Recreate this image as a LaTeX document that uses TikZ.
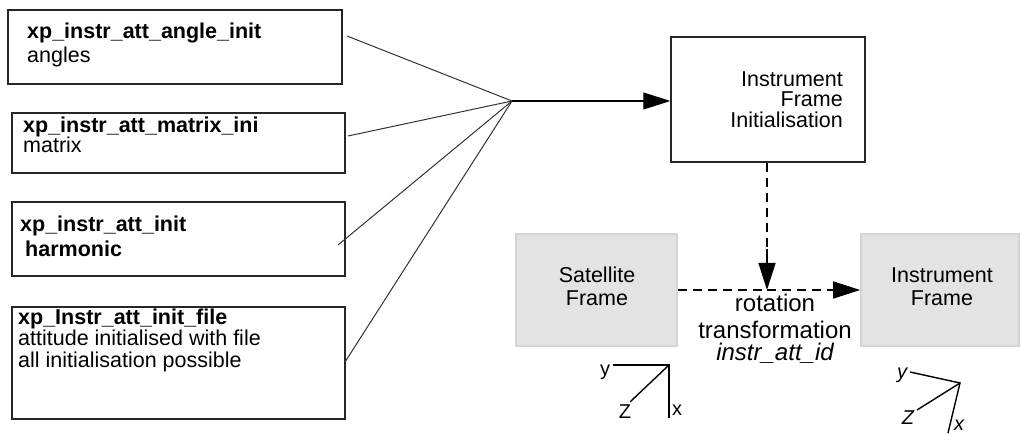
\documentclass[tikz,border=0pt]{standalone}
\usepackage{fontspec}
\setmainfont{Liberation Sans}
\usetikzlibrary{arrows.meta}
\begin{document}
\begin{tikzpicture}[x=1pt,y=-1pt,
  box/.style={draw=black!85,line width=1.4pt,inner sep=0pt},
  gbox/.style={draw=black!17,fill=black!11,line width=1.6pt,inner sep=0pt},
  txt/.style={inner sep=0pt,anchor=base west,font=\fontsize{21.5}{24}\selectfont},
  ctxt/.style={inner sep=0pt,anchor=base,font=\fontsize{21.5}{24}\selectfont},
  rtxt/.style={inner sep=0pt,anchor=base east,font=\fontsize{21.5}{24}\selectfont},
  big/.style={inner sep=0pt,anchor=base,font=\fontsize{24}{27}\selectfont},
  conn/.style={line width=1pt,draw=black!80},
  dsh/.style={line width=1.3pt,dash pattern=on 9pt off 6pt},
  tip/.style={-{Triangle[length=27pt,width=17pt]}},
  axisline/.style={line width=1.4pt},
  axlbl/.style={inner sep=0pt,font=\fontsize{20}{22}\selectfont}]
\useasboundingbox (0,0) rectangle (1021,435);

% left boxes
\node[box,minimum width=334pt,minimum height=74pt] (b1) at (175,47) {};
\node[box,minimum width=333pt,minimum height=60pt] (b2) at (178.5,143) {};
\node[box,minimum width=333pt,minimum height=74pt] (b3) at (178.5,239) {};
\node[box,minimum width=333pt,minimum height=112pt] (b4) at (178.5,363) {};

\node[txt] (t1a) at (27,39) {\textbf{xp\_instr\_att\_angle\_init}};
\node[txt] (t1b) at (27,63) {angles};
\node[txt] (t2a) at (23,133) {\textbf{xp\_instr\_att\_matrix\_ini}};
\node[txt] (t2b) at (23,153) {matrix};
\node[txt] (t3a) at (20,232) {\textbf{xp\_instr\_att\_init}};
\node[txt] (t3b) at (25,257) {\textbf{harmonic}};
\node[txt] (t4a) at (18,325) {\textbf{xp\_Instr\_att\_init\_file}};
\node[txt] (t4b) at (18,346) {attitude initialised with file};
\node[txt] (t4c) at (18,368) {all initialisation possible};

% junction and connectors
\coordinate (J) at (512,101);
\coordinate (s1) at (347,36);
\coordinate (s2) at (348,136);
\coordinate (s3) at (338,245);
\coordinate (s4) at (345,362);
\draw[conn] (s1) -- (J);
\draw[conn] (s2) -- (J);
\draw[conn] (s3) -- (J);
\draw[conn] (s4) -- (J);

% top box
\node[box,minimum width=194pt,minimum height=125pt] (init) at (768,99.5) {};
\node[rtxt] (i1) at (843,87) {Instrument};
\node[rtxt] (i2) at (843,107) {Frame};
\node[rtxt] (i3) at (843,128) {Initialisation};
\draw[line width=1.1pt,tip] (J) -- (init.west |- J);

% frames
\node[gbox,minimum width=161pt,minimum height=112pt] (sat) at (596.5,290) {};
\node[ctxt] (sa1) at (597,283) {Satellite};
\node[ctxt] (sa2) at (597,306) {Frame};
\node[gbox,minimum width=158pt,minimum height=112pt] (ins) at (940,290) {};
\node[ctxt] (in1) at (942,283) {Instrument};
\node[ctxt] (in2) at (942,306) {Frame};

% dashed arrows
\coordinate (M) at (767,290);
\draw[dsh] (sat.east) -- (M);
\draw[dsh,tip] (M) -- (ins.west);
\draw[dsh] (767,162.7) -- (767,250);
\draw[tip,line width=1.3pt] (767,249) -- (M);

% label
\node[big] (l1) at (775,312) {rotation};
\node[big] (l2) at (775,339) {transformation};
\node[big] (l3) at (775,361) {\itshape instr\_att\_id};

% left axis
\coordinate (A1) at (669,365);
\coordinate (A1y) at (613,365);
\coordinate (A1z) at (630,402);
\coordinate (A1x) at (669,418);
\draw[axisline] (A1y) -- (A1) -- (A1x);
\draw[axisline] (A1) -- (A1z);
\node[axlbl] (ly1) at (605,372) {y};
\node[axlbl] (lz1) at (625,412) {Z};
\node[axlbl] (lx1) at (677,410) {x};

% right axis
\coordinate (A2) at (960,383);
\coordinate (A2y) at (910,372);
\coordinate (A2z) at (917,410);
\coordinate (A2x) at (948,433);
\draw[axisline] (A2y) -- (A2) -- (A2x);
\draw[axisline] (A2) -- (A2z);
\node[axlbl] (ly2) at (902,375) {\itshape y};
\node[axlbl] (lz2) at (908,418) {\itshape Z};
\node[axlbl] (lx2) at (959,425) {\itshape x};
\end{tikzpicture}
\end{document}
